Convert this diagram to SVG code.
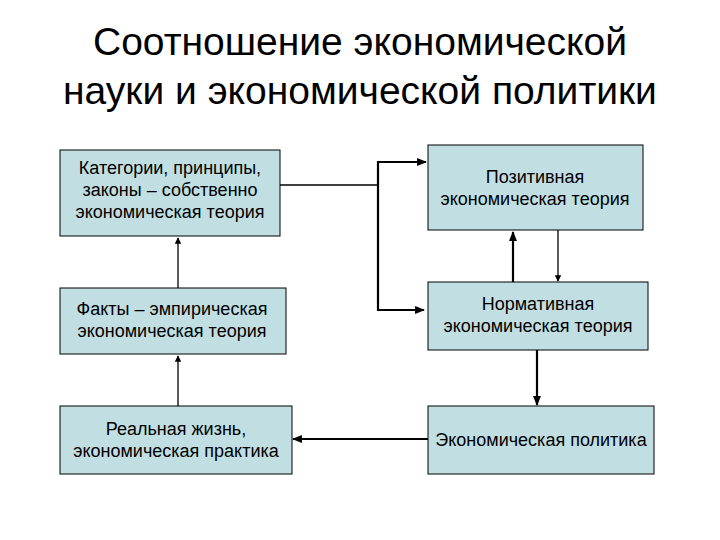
<svg xmlns="http://www.w3.org/2000/svg" width="720" height="540" viewBox="0 0 720 540">
<style>
.b{fill:#c1dfe3;stroke:#000;stroke-width:1}
.t{font-family:"Liberation Sans",Arial,sans-serif;font-size:18px;fill:#000;text-anchor:middle}
.h{font-family:"Liberation Sans",Arial,sans-serif;font-size:39px;fill:#000;text-anchor:middle}
.c{fill:none;stroke:#000;stroke-width:1.3}
.k{fill:none;stroke:#000;stroke-width:2.2}
</style>
<defs><marker id="a" viewBox="0 0 10 10" refX="9" refY="5" markerWidth="5" markerHeight="5" orient="auto"><path d="M0,0L10,5L0,10z"/></marker>
<marker id="s" viewBox="0 0 10 10" refX="9" refY="5" markerWidth="4.5" markerHeight="4.5" orient="auto"><path d="M0,1L10,5L0,9z"/></marker></defs>
<rect width="720" height="540" fill="#fff"/>
<text class="h" x="360" y="55">Соотношение экономической</text>
<text class="h" x="360" y="104">науки и экономической политики</text>
<g id="n1"><rect class="b" x="60" y="150" width="220" height="86"/><text class="t" x="170" y="174">Категории, принципы,</text><text class="t" x="170" y="196">законы – собственно</text><text class="t" x="170" y="218">экономическая теория</text></g>
<g id="n2"><rect class="b" x="60" y="288" width="226" height="66"/><text class="t" x="172" y="315">Факты – эмпирическая</text><text class="t" x="172" y="337">экономическая теория</text></g>
<g id="n3"><rect class="b" x="60" y="406" width="232" height="68"/><text class="t" x="176" y="435">Реальная жизнь,</text><text class="t" x="176" y="457">экономическая практика</text></g>
<g id="n4"><rect class="b" x="428" y="145" width="215" height="85"/><text class="t" x="535" y="183">Позитивная</text><text class="t" x="535" y="205">экономическая теория</text></g>
<g id="n5"><rect class="b" x="428" y="282" width="220" height="68"/><text class="t" x="538" y="310">Нормативная</text><text class="t" x="538" y="332">экономическая теория</text></g>
<g id="n6"><rect class="b" x="428" y="406" width="226" height="68"/><text class="t" x="541" y="446">Экономическая политика</text></g>
<g id="connectors">
<path class="c" d="M280,185H378"/>
<path class="k" d="M426,162H378V310H424" marker-end="url(#s)"/>
<path class="k" d="M378,162H426" marker-end="url(#s)"/>
<path class="c" d="M558,230V281" marker-end="url(#a)"/>
<path class="k" d="M513,282V232" marker-end="url(#s)"/>
<path class="k" d="M537,350V405" marker-end="url(#s)"/>
<path class="k" d="M428,439H293" marker-end="url(#s)"/>
<path class="c" d="M178,406V356" marker-end="url(#a)"/>
<path class="c" d="M178,288V238" marker-end="url(#a)"/>
</g>
</svg>
